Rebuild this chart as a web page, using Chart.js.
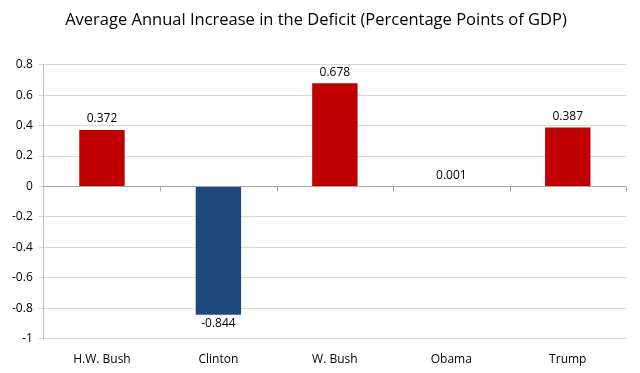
<!DOCTYPE html>
<html>
<head>
<meta charset="utf-8">
<script src="https://cdn.jsdelivr.net/npm/chart.js@4"></script>
<style>
  html, body { margin: 0; padding: 0; background: #fff; }
  #wrap { width: 640px; height: 373px; }
</style>
</head>
<body>
<div id="wrap"><canvas id="chart"></canvas></div>
<script>
const presidents = ['H.W. Bush', 'Clinton', 'W. Bush', 'Obama', 'Trump'];
const deficitIncrease = [0.372, -0.844, 0.678, 0.001, 0.387];
const barColors = ['#C00000', '#1F497D', '#C00000', '#C00000', '#C00000'];
const chartTitle = 'Average Annual Increase in the Deficit (Percentage Points of GDP)';

// Werte über/unter den Balken
const valueLabels = {
  id: 'valueLabels',
  afterDatasetsDraw(chart) {
    const ctx = chart.ctx;
    const meta = chart.getDatasetMeta(0);
    ctx.save();
    ctx.font = '12px "Open Sans", sans-serif';
    ctx.fillStyle = '#000';
    ctx.textAlign = 'center';
    meta.data.forEach((bar, i) => {
      const v = deficitIncrease[i];
      if (v >= 0) {
        ctx.textBaseline = 'bottom';
        ctx.fillText(v.toFixed(3), bar.x, bar.y - 5);
      } else {
        ctx.textBaseline = 'top';
        ctx.fillText(v.toFixed(3), bar.x, bar.y + 3);
      }
    });
    ctx.restore();
  }
};

// Nulllinie mit kleinen Teilstrichen zwischen den Kategorien
const zeroAxis = {
  id: 'zeroAxis',
  afterDatasetsDraw(chart) {
    const ctx = chart.ctx;
    const x = chart.scales.x;
    const y0 = chart.scales.y.getPixelForValue(0);
    ctx.save();
    ctx.strokeStyle = '#a6a6a6';
    ctx.lineWidth = 1;
    ctx.beginPath();
    ctx.moveTo(x.left, Math.round(y0) + 0.5);
    ctx.lineTo(x.right, Math.round(y0) + 0.5);
    const step = (x.right - x.left) / presidents.length;
    for (let i = 1; i <= presidents.length; i++) {
      const px = Math.round(x.left + i * step) + 0.5;
      ctx.moveTo(px, y0);
      ctx.lineTo(px, y0 + 5);
    }
    ctx.stroke();
    ctx.restore();
  }
};

new Chart(document.getElementById('chart'), {
  type: 'bar',
  data: {
    labels: presidents,
    datasets: [{
      data: deficitIncrease,
      backgroundColor: barColors,
      categoryPercentage: 1,
      barPercentage: 0.39
    }]
  },
  options: {
    responsive: true,
    maintainAspectRatio: false,
    animation: false,
    layout: { padding: { left: 6, right: 14, top: 4, bottom: 0 } },
    plugins: {
      legend: { display: false },
      tooltip: { enabled: false },
      title: {
        display: true,
        text: chartTitle,
        color: '#000',
        font: { family: '"Open Sans", sans-serif', size: 16.5, weight: 'normal' },
        padding: { top: 6, bottom: 35 }
      }
    },
    scales: {
      x: {
        grid: { display: false },
        border: { display: false },
        ticks: {
          color: '#000',
          font: { family: '"Open Sans", sans-serif', size: 12 },
          padding: 6
        }
      },
      y: {
        min: -1,
        max: 0.8,
        ticks: {
          stepSize: 0.2,
          color: '#000',
          font: { family: '"Open Sans", sans-serif', size: 12 },
          padding: 6,
          callback: v => String(Math.round(v * 10) / 10)
        },
        grid: { color: '#d9d9d9', tickLength: 5 },
        border: { color: '#bfbfbf' }
      }
    }
  },
  plugins: [valueLabels, zeroAxis]
});
</script>
</body>
</html>
